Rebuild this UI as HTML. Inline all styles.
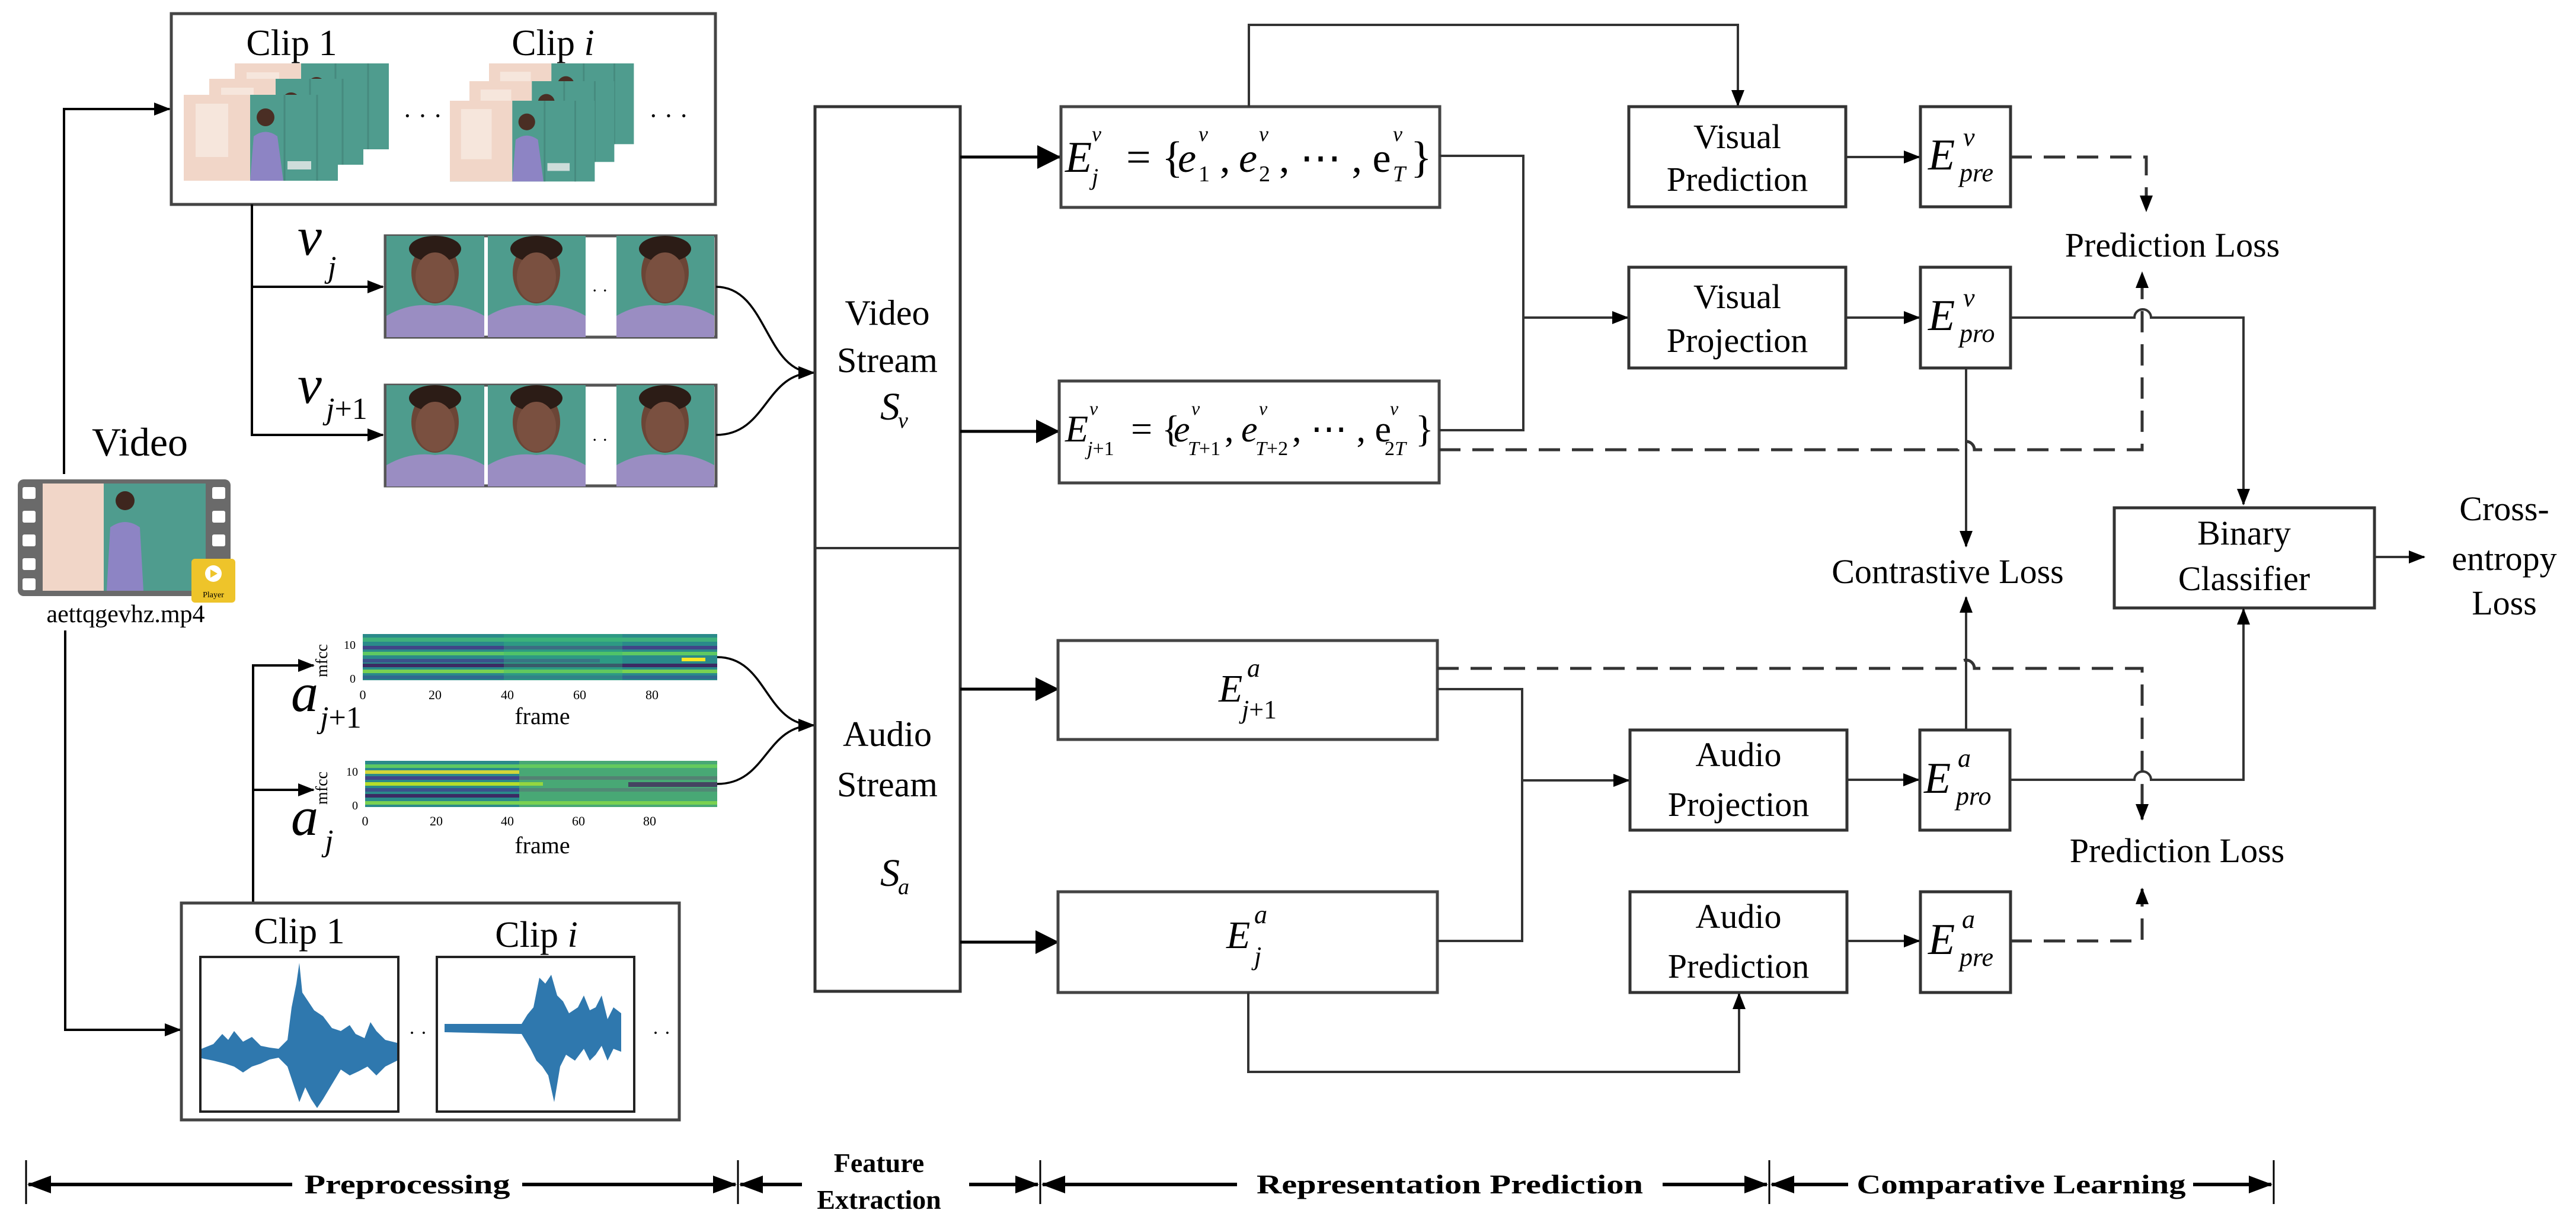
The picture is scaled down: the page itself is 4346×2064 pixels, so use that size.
<!DOCTYPE html>
<html><head><meta charset="utf-8"><style>
html,body{margin:0;padding:0;background:#fff;}
svg{display:block;}
text{font-family:"Liberation Serif",serif;fill:#000;}
</style></head><body>
<svg width="4346" height="2064" viewBox="0 0 4346 2064" xmlns="http://www.w3.org/2000/svg" font-family="Liberation Serif, serif">
<defs>
<marker id="a" markerWidth="28" markerHeight="22" refX="26" refY="11" orient="auto" markerUnits="userSpaceOnUse"><path d="M0,0 L28,11 L0,22 z" fill="#000"/></marker>
<marker id="A" markerWidth="40" markerHeight="40" refX="38" refY="20" orient="auto" markerUnits="userSpaceOnUse"><path d="M0,0 L40,20 L0,40 z" fill="#000"/></marker>
<marker id="h" markerWidth="40" markerHeight="30" refX="38" refY="15" orient="auto" markerUnits="userSpaceOnUse"><path d="M0,0 L40,15 L0,30 z" fill="#000"/></marker>
<g id="frm">
 <rect x="0" y="0" width="260" height="145" fill="#4f9c8e"/>
 <rect x="0" y="0" width="112" height="145" fill="#f1d6c8"/>
 <rect x="20" y="15" width="55" height="90" fill="#f6e6dc"/>
 <line x1="170" y1="0" x2="170" y2="145" stroke="#468a7e" stroke-width="3"/>
 <line x1="225" y1="0" x2="225" y2="145" stroke="#468a7e" stroke-width="3"/>
 <circle cx="138" cy="38" r="15" fill="#4a2e24"/>
 <path d="M112,145 L118,70 Q138,55 158,70 L168,145 z" fill="#8d84c4"/>
 <rect x="175" y="112" width="40" height="14" fill="#eee" opacity="0.8"/>
</g>
<g id="face">
 <rect x="0" y="0" width="165" height="171" fill="#4e9c8d"/>
 <ellipse cx="82" cy="62" rx="40" ry="52" fill="#6b4536"/>
 <ellipse cx="82" cy="22" rx="44" ry="22" fill="#2c1c16"/>
 <ellipse cx="82" cy="70" rx="33" ry="42" fill="#7a5040"/>
 <path d="M0,171 L0,135 Q40,112 82,118 Q124,112 165,135 L165,171 z" fill="#9a8dc2"/>
</g>
</defs>

<rect x="289" y="23" width="918" height="322" fill="#fff" stroke="#444" stroke-width="5"/>
<text x="492" y="93" font-size="62" text-anchor="middle">Clip 1</text>
<text x="933" y="93" font-size="62" text-anchor="middle">Clip <tspan font-style="italic">i</tspan></text>
<use href="#frm" x="396" y="107"/>
<use href="#frm" x="353" y="133"/>
<use href="#frm" x="310" y="160"/>
<g transform="translate(825,107) scale(0.94)"><use href="#frm"/></g>
<g transform="translate(792,137) scale(0.94)"><use href="#frm"/></g>
<g transform="translate(759,170) scale(0.94)"><use href="#frm"/></g>
<text x="713" y="210" font-size="44" text-anchor="middle">· · ·</text>
<text x="1128" y="210" font-size="44" text-anchor="middle">· · ·</text>

<path d="M108,800 V184 H286" fill="none" stroke="#000" stroke-width="4" marker-end="url(#a)"/>
<path d="M110,1064 V1738 H304" fill="none" stroke="#000" stroke-width="4" marker-end="url(#a)"/>
<path d="M425,345 V734 H646" fill="none" stroke="#000" stroke-width="4" marker-end="url(#a)"/>
<path d="M425,484 H646" fill="none" stroke="#000" stroke-width="4" marker-end="url(#a)"/>
<path d="M427,1524 V1123 H529" fill="none" stroke="#000" stroke-width="4" marker-end="url(#a)"/>
<path d="M427,1333 H529" fill="none" stroke="#000" stroke-width="4" marker-end="url(#a)"/>

<text x="502" y="430" font-size="92" font-style="italic">v</text>
<text x="553" y="468" font-size="52" font-style="italic">j</text>
<text x="502" y="680" font-size="92" font-style="italic">v</text>
<text x="550" y="707" font-size="52"><tspan font-style="italic">j</tspan>+1</text>

<g>
 <rect x="650" y="398" width="558" height="171" fill="#fff" stroke="#555" stroke-width="5"/>
 <use href="#face" x="652" y="398"/><use href="#face" x="823" y="398"/><use href="#face" x="1040" y="398"/>
 <rect x="650" y="650" width="558" height="170" fill="#fff" stroke="#555" stroke-width="5"/>
 <use href="#face" x="652" y="650"/><use href="#face" x="823" y="650"/><use href="#face" x="1040" y="650"/>
 <text x="1012" y="500" font-size="30" text-anchor="middle" fill="#555">· ·</text>
 <text x="1012" y="752" font-size="30" text-anchor="middle" fill="#555">· ·</text>
</g>

<text x="236" y="769" font-size="68" text-anchor="middle">Video</text>
<rect x="30" y="809" width="359" height="197" rx="10" fill="#6a6a6a"/>
<rect x="72" y="816" width="275" height="181" fill="#4f9c8e"/>
<rect x="72" y="816" width="103" height="181" fill="#f1d6c8"/>
<circle cx="211" cy="845" r="16" fill="#3e261e"/>
<path d="M180,997 L186,890 Q211,872 236,890 L242,997 z" fill="#8d84c4"/>
<g fill="#fff">
<rect x="38" y="822" width="22" height="20" rx="3"/><rect x="38" y="862" width="22" height="20" rx="3"/><rect x="38" y="902" width="22" height="20" rx="3"/><rect x="38" y="942" width="22" height="20" rx="3"/><rect x="38" y="976" width="22" height="20" rx="3"/>
<rect x="358" y="822" width="22" height="20" rx="3"/><rect x="358" y="862" width="22" height="20" rx="3"/><rect x="358" y="902" width="22" height="20" rx="3"/>
</g>
<rect x="323" y="943" width="74" height="74" rx="6" fill="#eec42a"/>
<circle cx="360" cy="968" r="14" fill="#fff"/>
<path d="M355,961 L367,968 L355,975 z" fill="#eec42a"/>
<text x="360" y="1008" font-size="14" text-anchor="middle" font-family="Liberation Sans" fill="#6a5010">Player</text>
<text x="212" y="1050" font-size="42" text-anchor="middle">aettqgevhz.mp4</text>

<g>
 <rect x="612" y="1070" width="598" height="78" fill="#2a8a8a"/>
 <rect x="612" y="1076" width="598" height="7" fill="#3fb07c"/>
 <rect x="612" y="1090" width="598" height="6" fill="#414487"/>
 <rect x="612" y="1100" width="598" height="6" fill="#5ec962"/>
 <rect x="612" y="1112" width="400" height="6" fill="#3b528b"/>
 <rect x="612" y="1120" width="598" height="6" fill="#440154" opacity="0.7"/>
 <rect x="1150" y="1110" width="40" height="6" fill="#fde725"/>
 <rect x="612" y="1130" width="598" height="6" fill="#7ad151"/>
 <rect x="612" y="1140" width="598" height="6" fill="#31688e"/>
 <rect x="850" y="1070" width="200" height="78" fill="#35b779" opacity="0.35"/>
 <text x="552" y="1115" font-size="28" text-anchor="middle" transform="rotate(-90 552 1115)">mfcc</text>
 <text x="600" y="1095" font-size="20" text-anchor="end" fill="#333">10</text>
 <text x="600" y="1152" font-size="20" text-anchor="end" fill="#333">0</text>
 <g font-size="22" fill="#333" text-anchor="middle"><text x="612" y="1180">0</text><text x="734" y="1180">20</text><text x="856" y="1180">40</text><text x="978" y="1180">60</text><text x="1100" y="1180">80</text></g>
 <text x="915" y="1222" font-size="40" text-anchor="middle">frame</text>

 <rect x="616" y="1284" width="594" height="78" fill="#2a8a8a"/>
 <rect x="616" y="1290" width="594" height="6" fill="#5ec962"/>
 <rect x="616" y="1300" width="260" height="6" fill="#fde725" opacity="0.8"/>
 <rect x="616" y="1310" width="594" height="6" fill="#414487"/>
 <rect x="616" y="1320" width="300" height="6" fill="#b5de2b"/>
 <rect x="616" y="1330" width="594" height="6" fill="#3b528b"/>
 <rect x="616" y="1340" width="260" height="6" fill="#440154" opacity="0.7"/>
 <rect x="876" y="1284" width="334" height="78" fill="#6ccd5a" opacity="0.45"/>
 <rect x="1060" y="1320" width="150" height="8" fill="#440154" opacity="0.6"/>
 <rect x="616" y="1352" width="594" height="6" fill="#7ad151"/>
 <text x="552" y="1330" font-size="28" text-anchor="middle" transform="rotate(-90 552 1330)">mfcc</text>
 <text x="604" y="1309" font-size="20" text-anchor="end" fill="#333">10</text>
 <text x="604" y="1366" font-size="20" text-anchor="end" fill="#333">0</text>
 <g font-size="22" fill="#333" text-anchor="middle"><text x="616" y="1393">0</text><text x="736" y="1393">20</text><text x="856" y="1393">40</text><text x="976" y="1393">60</text><text x="1096" y="1393">80</text></g>
 <text x="915" y="1440" font-size="40" text-anchor="middle">frame</text>
</g>
<text x="491" y="1200" font-size="92" font-style="italic">a</text>
<text x="540" y="1228" font-size="52"><tspan font-style="italic">j</tspan>+1</text>
<text x="491" y="1409" font-size="92" font-style="italic">a</text>
<text x="548" y="1436" font-size="52" font-style="italic">j</text>

<rect x="306" y="1524" width="840" height="366" fill="#fff" stroke="#444" stroke-width="5"/>
<text x="505" y="1592" font-size="62" text-anchor="middle">Clip 1</text>
<text x="905" y="1598" font-size="62" text-anchor="middle">Clip <tspan font-style="italic">i</tspan></text>
<rect x="338" y="1615" width="334" height="261" fill="#fff" stroke="#222" stroke-width="4"/>
<rect x="737" y="1615" width="333" height="261" fill="#fff" stroke="#222" stroke-width="4"/>
<path fill="#2f78ae" d="M340,1770 L360,1762 L375,1745 L385,1755 L395,1740 L410,1758 L425,1750 L440,1765 L455,1768 L470,1770 L485,1755 L492,1700 L500,1660 L505,1625 L510,1675 L520,1690 L530,1705 L545,1715 L560,1735 L575,1740 L590,1730 L600,1745 L615,1752 L625,1725 L635,1740 L650,1755 L670,1760
 L670,1790 L650,1800 L635,1815 L620,1800 L605,1808 L590,1815 L575,1805 L560,1830 L545,1855 L535,1870 L525,1855 L515,1835 L505,1860 L495,1830 L485,1800 L470,1785 L455,1788 L440,1795 L425,1800 L410,1810 L395,1800 L380,1795 L360,1790 L340,1786 z"/>
<path fill="#2f78ae" d="M750,1728 L880,1728 L890,1712 L900,1700 L910,1650 L920,1660 L930,1645 L940,1680 L950,1690 L960,1710 L975,1700 L985,1680 L995,1705 L1005,1700 L1015,1680 L1025,1720 L1035,1700 L1048,1710 L1048,1775 L1035,1770 L1025,1790 L1015,1765 L1005,1780 L995,1790 L985,1770 L970,1790 L955,1780 L945,1800 L935,1860 L925,1815 L915,1800 L905,1790 L895,1770 L880,1745 L750,1742 z"/>
<text x="705" y="1754" font-size="34" text-anchor="middle">· ·</text>
<text x="1116" y="1754" font-size="34" text-anchor="middle">· ·</text>

<g fill="none" stroke="#000" stroke-width="3.5">
<path d="M1208,484 C1295,484 1290,629 1373,629" marker-end="url(#a)"/>
<path d="M1208,734 C1295,734 1290,629 1373,629" marker-end="url(#a)"/>
<path d="M1210,1109 C1295,1109 1290,1224 1373,1224" marker-end="url(#a)"/>
<path d="M1210,1323 C1295,1323 1290,1224 1373,1224" marker-end="url(#a)"/>
</g>

<rect x="1375" y="180" width="245" height="1493" fill="#fff" stroke="#333" stroke-width="5"/>
<line x1="1375" y1="925" x2="1620" y2="925" stroke="#333" stroke-width="4"/>
<g font-size="60" text-anchor="middle">
<text x="1497" y="548">Video</text>
<text x="1497" y="628">Stream</text>
<text x="1497" y="1259">Audio</text>
<text x="1497" y="1344">Stream</text>
</g>
<text x="1485" y="708" font-size="66" font-style="italic">S</text><text x="1515" y="722" font-size="38" font-style="italic">v</text>
<text x="1485" y="1495" font-size="66" font-style="italic">S</text><text x="1515" y="1509" font-size="38" font-style="italic">a</text>

<g stroke="#000" stroke-width="5" fill="none">
<path d="M1620,265 H1788" marker-end="url(#A)"/>
<path d="M1620,728 H1786" marker-end="url(#A)"/>
<path d="M1620,1163 H1785" marker-end="url(#A)"/>
<path d="M1620,1590 H1785" marker-end="url(#A)"/>
</g>

<g fill="#fff" stroke="#444" stroke-width="5">
<rect x="1790" y="180" width="639" height="170"/>
<rect x="1787" y="643" width="641" height="172"/>
<rect x="1785" y="1081" width="640" height="167"/>
<rect x="1785" y="1505" width="640" height="170"/>
</g>
<g font-style="italic">
<text x="1797" y="290" font-size="74">E</text><text x="1842" y="238" font-size="36">v</text><text x="1842" y="312" font-size="40">j</text>
<text x="1900" y="290" font-size="74" font-style="normal">= {</text>
<text x="1987" y="290" font-size="70">e</text><text x="2022" y="238" font-size="36">v</text><text x="2022" y="306" font-size="38" font-style="normal">1</text>
<text x="2058" y="290" font-size="70" font-style="normal">,</text>
<text x="2090" y="290" font-size="70">e</text><text x="2124" y="238" font-size="36">v</text><text x="2124" y="306" font-size="38" font-style="normal">2</text>
<text x="2158" y="290" font-size="70" font-style="normal">, ⋯ , e</text><text x="2350" y="238" font-size="36">v</text><text x="2350" y="306" font-size="38">T</text>
<text x="2380" y="290" font-size="74" font-style="normal">}</text>

<text x="1797" y="745" font-size="64">E</text><text x="1838" y="700" font-size="32">v</text><text x="1834" y="768" font-size="34">j<tspan font-style="normal">+1</tspan></text>
<text x="1908" y="745" font-size="64" font-style="normal">= {</text>
<text x="1980" y="745" font-size="62">e</text><text x="2010" y="700" font-size="32">v</text><text x="2004" y="768" font-size="34">T<tspan font-style="normal">+1</tspan></text>
<text x="2066" y="745" font-size="62" font-style="normal">,</text>
<text x="2094" y="745" font-size="62">e</text><text x="2124" y="700" font-size="32">v</text><text x="2118" y="768" font-size="34">T<tspan font-style="normal">+2</tspan></text>
<text x="2180" y="745" font-size="62" font-style="normal">, ⋯ , e</text><text x="2345" y="700" font-size="32">v</text><text x="2336" y="768" font-size="34"><tspan font-style="normal">2</tspan>T</text>
<text x="2388" y="745" font-size="64" font-style="normal">}</text>

<text x="2056" y="1184" font-size="66">E</text><text x="2104" y="1142" font-size="44">a</text><text x="2095" y="1212" font-size="44">j<tspan font-style="normal">+1</tspan></text>
<text x="2069" y="1600" font-size="66">E</text><text x="2116" y="1558" font-size="44">a</text><text x="2116" y="1628" font-size="44">j</text>
</g>

<g fill="none" stroke="#333" stroke-width="4">
<path d="M2107,180 V42 H2932 V178" marker-end="url(#a)"/>
<path d="M2429,263 H2570 V726 H2428"/>
<path d="M2570,536 H2746" marker-end="url(#a)"/>
<path d="M2425,1163 H2568 V1588 H2425"/>
<path d="M2568,1317 H2748" marker-end="url(#a)"/>
<path d="M2106,1675 V1809 H2934 V1677" marker-end="url(#a)"/>
<path d="M3114,265 H3238" marker-end="url(#a)"/>
<path d="M3114,536 H3238" marker-end="url(#a)"/>
<path d="M3116,1316 H3237" marker-end="url(#a)"/>
<path d="M3116,1588 H3238" marker-end="url(#a)"/>
</g>

<g fill="#fff" stroke="#333" stroke-width="5">
<rect x="2748" y="180" width="366" height="169"/>
<rect x="2748" y="451" width="366" height="170"/>
<rect x="2750" y="1232" width="366" height="169"/>
<rect x="2750" y="1505" width="366" height="170"/>
<rect x="3240" y="180" width="152" height="169"/>
<rect x="3240" y="451" width="152" height="170"/>
<rect x="3239" y="1232" width="152" height="169"/>
<rect x="3240" y="1505" width="152" height="170"/>
<rect x="3567" y="857" width="439" height="169"/>
</g>
<g font-size="58" text-anchor="middle">
<text x="2931" y="250">Visual</text><text x="2931" y="322">Prediction</text>
<text x="2931" y="520">Visual</text><text x="2931" y="594">Projection</text>
<text x="2933" y="1293">Audio</text><text x="2933" y="1377">Projection</text>
<text x="2933" y="1566">Audio</text><text x="2933" y="1650">Prediction</text>
<text x="3786" y="919">Binary</text><text x="3786" y="996">Classifier</text>
<text x="4225" y="878">Cross-</text><text x="4225" y="962">entropy</text><text x="4225" y="1037">Loss</text>
<text x="3665" y="433">Prediction Loss</text>
<text x="3286" y="984">Contrastive Loss</text>
<text x="3673" y="1455">Prediction Loss</text>
</g>
<g font-style="italic">
<text x="3253" y="286" font-size="74">E</text><text x="3312" y="246" font-size="44">v</text><text x="3306" y="306" font-size="44">pre</text>
<text x="3253" y="557" font-size="74">E</text><text x="3312" y="517" font-size="44">v</text><text x="3306" y="577" font-size="44">pro</text>
<text x="3246" y="1338" font-size="74">E</text><text x="3303" y="1294" font-size="44">a</text><text x="3300" y="1358" font-size="44">pro</text>
<text x="3253" y="1610" font-size="74">E</text><text x="3310" y="1566" font-size="44">a</text><text x="3306" y="1630" font-size="44">pre</text>
</g>

<g fill="none" stroke="#333" stroke-width="4">
<path d="M3391,536 H3601 A14,14 0 0 1 3629,536 H3785 V851" marker-end="url(#a)"/>
<path d="M3317,621 V922" marker-end="url(#a)"/>
<path d="M3317,1232 V1008" marker-end="url(#a)"/>
<path d="M3391,1316 H3601 A14,14 0 0 1 3629,1316 H3785 V1028" marker-end="url(#a)"/>
<path d="M4006,940 H4090" marker-end="url(#a)"/>
</g>
<g fill="none" stroke="#333" stroke-width="5" stroke-dasharray="36,20">
<path d="M2428,759 H3303 A14,14 0 0 1 3331,759 H3614 V460" marker-end="url(#a)"/>
<path d="M3392,265 H3621 V356" marker-end="url(#a)"/>
<path d="M2425,1128 H3303 A14,14 0 0 1 3331,1128 H3614 V1383" marker-end="url(#a)"/>
<path d="M3392,1588 H3614 V1500" marker-end="url(#a)"/>
</g>

<g stroke="#000" stroke-width="3">
<line x1="44" y1="1958" x2="44" y2="2032"/>
<line x1="1245" y1="1958" x2="1245" y2="2032"/>
<line x1="1755" y1="1958" x2="1755" y2="2032"/>
<line x1="2985" y1="1958" x2="2985" y2="2032"/>
<line x1="3836" y1="1958" x2="3836" y2="2032"/>
</g>
<g stroke="#000" stroke-width="6" fill="none">
<path d="M493,1999 H48" marker-end="url(#h)"/>
<path d="M881,1999 H1241" marker-end="url(#h)"/>
<path d="M1353,1999 H1249" marker-end="url(#h)"/>
<path d="M1635,1999 H1751" marker-end="url(#h)"/>
<path d="M2087,1999 H1759" marker-end="url(#h)"/>
<path d="M2805,1999 H2981" marker-end="url(#h)"/>
<path d="M3118,1999 H2989" marker-end="url(#h)"/>
<path d="M3700,1999 H3832" marker-end="url(#h)"/>
</g>
<g font-size="46" font-weight="bold" text-anchor="middle">
<text x="687" y="2014" textLength="347" lengthAdjust="spacingAndGlyphs">Preprocessing</text>
<text x="1483" y="1978">Feature</text>
<text x="1483" y="2040">Extraction</text>
<text x="2446" y="2014" textLength="652" lengthAdjust="spacingAndGlyphs">Representation Prediction</text>
<text x="3410" y="2014" textLength="555" lengthAdjust="spacingAndGlyphs">Comparative Learning</text>
</g>
</svg>
</body></html>
